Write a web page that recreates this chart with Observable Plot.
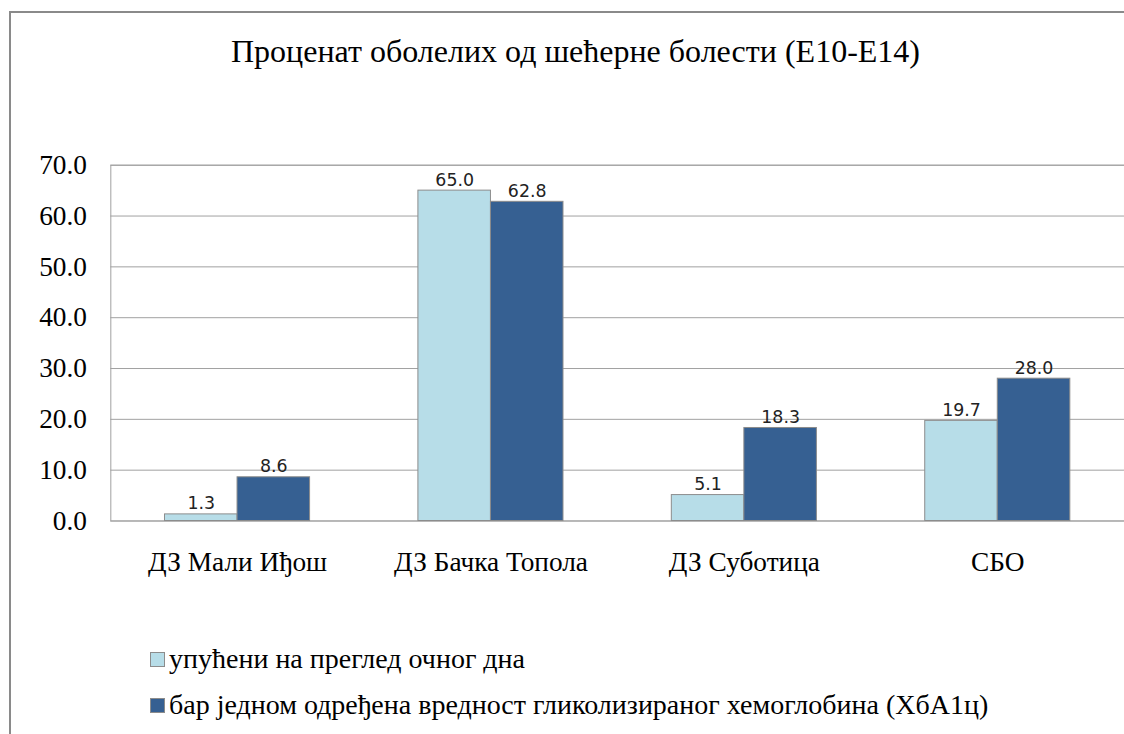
<!DOCTYPE html>
<html>
<head>
<meta charset="utf-8">
<script src="https://cdn.jsdelivr.net/npm/d3@7"></script>
<script src="https://cdn.jsdelivr.net/npm/@observablehq/plot@0.6"></script>
<style>
  html, body { margin: 0; padding: 0; background: #fff; overflow: hidden; width: 1124px; height: 734px; }
  #frame { position: absolute; left: 9px; top: 11px; width: 1300px; height: 900px; border: 2px solid #8a8a8a; }
  #title { position: absolute; left: 0; top: 35px; width: 1151px; text-align: center; font-family: "Liberation Serif", serif; font-size: 32px; line-height: 32px; color: #000; white-space: nowrap; }
  #plot { position: absolute; left: 0; top: 120px; }
  #legend { position: absolute; left: 150px; top: 644px; font-family: "Liberation Serif", serif; font-size: 28px; color: #000; }
  .row { display: flex; align-items: center; height: 30px; margin-bottom: 16px; white-space: nowrap; }
  .sw { width: 13px; height: 13px; border: 1px solid #8c8c8c; margin-right: 4px; flex: none; }
</style>
</head>
<body>
<div id="frame"></div>
<div id="title"></div>
<div id="plot"></div>
<div id="legend"></div>
<script>
const chartTitle = "Проценат оболелих од шећерне болести (Е10-Е14)";
const categories = ["ДЗ Мали Иђош", "ДЗ Бачка Топола", "ДЗ Суботица", "СБО"];
const seriesNames = ["упућени на преглед очног дна", "бар једном одређена вредност гликолизираног хемоглобина (ХбА1ц)"];
const referredValues = [1.3, 65.0, 5.1, 19.7];
const hba1cValues = [8.6, 62.8, 18.3, 28.0];
const yTicks = [0, 10, 20, 30, 40, 50, 60, 70];
const colors = ["#b7dde8", "#366092"];

const rowsA = categories.map((c, i) => ({category: c, series: seriesNames[0], value: referredValues[i]}));
const rowsB = categories.map((c, i) => ({category: c, series: seriesNames[1], value: hba1cValues[i]}));

document.getElementById("title").textContent = chartTitle;

const labelFont = {fontFamily: "DejaVu Sans", fontSize: 17.5, fill: "#222", lineAnchor: "bottom", dy: -5};

const chart = Plot.plot({
  width: 1131,
  height: 480,
  marginTop: 45,
  marginBottom: 77,
  marginLeft: 111,
  marginRight: 0,
  style: {fontFamily: "Liberation Serif", fontSize: "27.5px", color: "#000", background: "transparent", overflow: "visible"},
  x: {type: "band", domain: categories, padding: 0, tickSize: 0, tickPadding: 31, label: null},
  y: {domain: [0, 70], ticks: yTicks, tickFormat: d => d.toFixed(1), tickSize: 0, tickPadding: 24, label: null},
  marks: [
    Plot.ruleY(yTicks, {stroke: "#a0a0a0", strokeWidth: 1}),
    Plot.frame({stroke: "#a0a0a0"}),
    Plot.barY(rowsA, {x: "category", y: "value", fill: colors[0], stroke: "#8c8c8c", insetLeft: 54.5, insetRight: 127.5}),
    Plot.barY(rowsB, {x: "category", y: "value", fill: colors[1], stroke: "#8c8c8c", insetLeft: 127.5, insetRight: 54.5}),
    Plot.text(rowsA, {x: "category", y: "value", text: d => d.value.toFixed(1), ...labelFont, dx: -36.5}),
    Plot.text(rowsB, {x: "category", y: "value", text: d => d.value.toFixed(1), ...labelFont, dx: 36.5})
  ]
});
document.getElementById("plot").appendChild(chart);

const legend = document.getElementById("legend");
seriesNames.forEach((name, i) => {
  const row = document.createElement("div");
  row.className = "row";
  const sw = document.createElement("span");
  sw.className = "sw";
  sw.style.background = colors[i];
  const t = document.createElement("span");
  t.textContent = name;
  row.appendChild(sw);
  row.appendChild(t);
  legend.appendChild(row);
});
</script>
</body>
</html>
